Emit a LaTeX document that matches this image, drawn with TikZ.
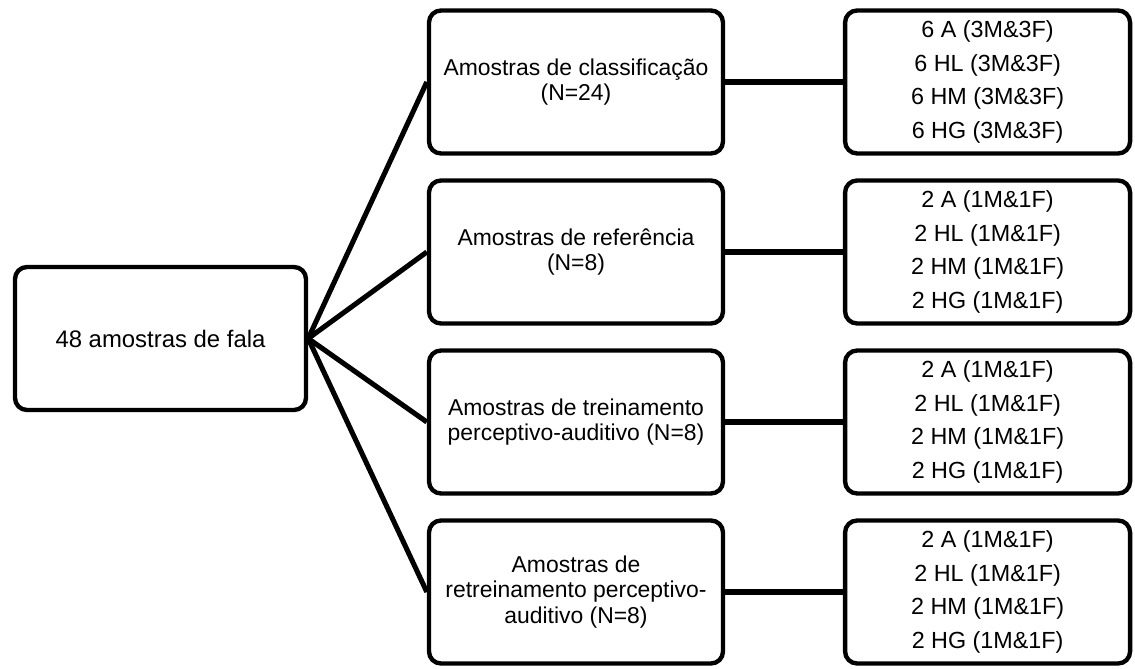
\documentclass[tikz,border=0pt]{standalone}
\usepackage{fontspec}
\setmainfont{Liberation Sans}
\usepackage{tikz}
\usetikzlibrary{positioning}
\tikzset{
	link/.style={draw=black, line width=3.6pt},
	basic/.style={
			draw,
			rectangle,
			rounded corners=0.3cm,
			line width=3.1pt,
			minimum height=3.575cm,
			align=center,
			font=\fontsize{16.3pt}{18pt}\selectfont
		},
	sample/.style={
			basic,
			font=\fontsize{16.6pt}{23.8pt}\selectfont
		}
}

\begin{document}
\begin{tikzpicture}
	\useasboundingbox (0,0) rectangle (28.375,-16.725);

	\node[basic, minimum width=7.275cm, font=\fontsize{17pt}{18pt}\selectfont] at (4.0125,-8.4625) (speech) {48 amostras de fala};

	\node[basic, minimum width=7.35cm] at (14.4,-2.05) (classif) {Amostras de classificação\\(N=24)};
	\node[basic, minimum width=7.35cm] at (14.4,-6.3) (refer) {Amostras de referência\\(N=8)};
	\node[basic, minimum width=7.35cm] at (14.4,-10.55) (train) {Amostras de treinamento\\perceptivo-auditivo (N=8)};
	\node[basic, minimum width=7.35cm] at (14.4,-14.8) (retrain) {Amostras de\\retreinamento perceptivo-\\auditivo (N=8)};

	\node[sample, minimum width=7.125cm] at (24.69,-2.05) (classifset) {6 A (3M\&3F)\\6 HL (3M\&3F)\\6 HM (3M\&3F)\\6 HG (3M\&3F)};
	\node[sample, minimum width=7.125cm] at (24.69,-6.3) (referset) {2 A (1M\&1F)\\2 HL (1M\&1F)\\2 HM (1M\&1F)\\2 HG (1M\&1F)};
	\node[sample, minimum width=7.125cm] at (24.69,-10.55) (trainset) {2 A (1M\&1F)\\2 HL (1M\&1F)\\2 HM (1M\&1F)\\2 HG (1M\&1F)};
	\node[sample, minimum width=7.125cm] at (24.69,-14.8) (retrainset) {2 A (1M\&1F)\\2 HL (1M\&1F)\\2 HM (1M\&1F)\\2 HG (1M\&1F)};

	\draw[link] (speech.east) -- (classif.west);
	\draw[link] (speech.east) -- (refer.west);
	\draw[link] (speech.east) -- (train.west);
	\draw[link] (speech.east) -- (retrain.west);

	\draw[link] (classif) -- (classifset);
	\draw[link] (refer) -- (referset);
	\draw[link] (train) -- (trainset);
	\draw[link] (retrain) -- (retrainset);
\end{tikzpicture}
\end{document}
